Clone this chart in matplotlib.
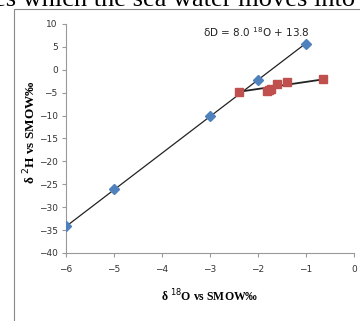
import matplotlib.pyplot as plt
from matplotlib.patches import Rectangle

# sea water / rain line (blue diamonds)
blue_x = [-6, -5, -3, -2, -1]
blue_y = [-34, -26, -10, -2.3, 5.7]

# sample points (red squares)
red_x = [-2.4, -1.82, -1.78, -1.72, -1.6, -1.4, -0.65]
red_y = [-4.8, -4.6, -4.4, -4.2, -3.1, -2.7, -2.1]

# fitted lines
fit_x = [-6, -1]
fit_y = [8.0 * v + 13.8 for v in fit_x]
mix_x = [-2.4, -0.65]
mix_y = [-4.8, -2.1]

xticks = [-6, -5, -4, -3, -2, -1, 0]
yticks = list(range(-40, 11, 5))

fig = plt.figure(figsize=(3.6, 3.21), dpi=100)
ax = fig.add_axes([66/360, 1-253/321, 288/360, 229/321])

tick_font = ['Liberation Sans Narrow', 'DejaVu Sans']

ax.plot(fit_x, fit_y, color='#222222', lw=0.9, zorder=2)
ax.plot(mix_x, mix_y, color='#222222', lw=1.3, zorder=2)
ax.plot(blue_x, blue_y, 'D', color='#4F81BD', ms=5, ls='none', zorder=3)
ax.plot(red_x, red_y, 's', color='#C0504D', ms=5.5, ls='none', zorder=3)

ax.set_xlim(-6, 0)
ax.set_ylim(-40, 10)
ax.set_xticks(xticks)
ax.set_yticks(yticks)
for lab in ax.get_xticklabels() + ax.get_yticklabels():
    lab.set_family(tick_font)
    lab.set_fontsize(6.5)
    lab.set_color('#333333')
ax.tick_params(direction='out', length=3, width=0.8, color='#999999', pad=3)
ax.tick_params(axis='x', pad=6)
for s in ['top', 'right']:
    ax.spines[s].set_visible(False)
for s in ['left', 'bottom']:
    ax.spines[s].set_color('#999999')
    ax.spines[s].set_linewidth(0.8)

ax.text(-3.15, 8.2, r'δD = 8.0 $^{18}$O + 13.8', family=tick_font, fontsize=7.5,
        color='#222222', ha='left', va='center')

fig.text(210/360, 1-296/321, 'δ ${}^{18}$O vs SMOW‰', family='Liberation Serif',
         fontweight='bold', fontsize=8.5, ha='center', va='center')
fig.text(30/360, 1-132/321, 'δ ${}^{2}$H vs SMOW‰', family='Liberation Serif',
         fontweight='bold', fontsize=9.5, ha='center', va='center', rotation=90)

# chart border
fig.patches.append(Rectangle((14/360, -0.1), 1.0, 1.1 - 9/321, transform=fig.transFigure,
                             fill=False, edgecolor='#888888', lw=0.8))

# cut-off line of page text above the chart
fig.text(-6/360, 1 - 6/321, 'es which the sea water moves into', family='Liberation Serif',
         fontsize=19, ha='left', va='baseline')

fig.savefig('out.png', dpi=100)
